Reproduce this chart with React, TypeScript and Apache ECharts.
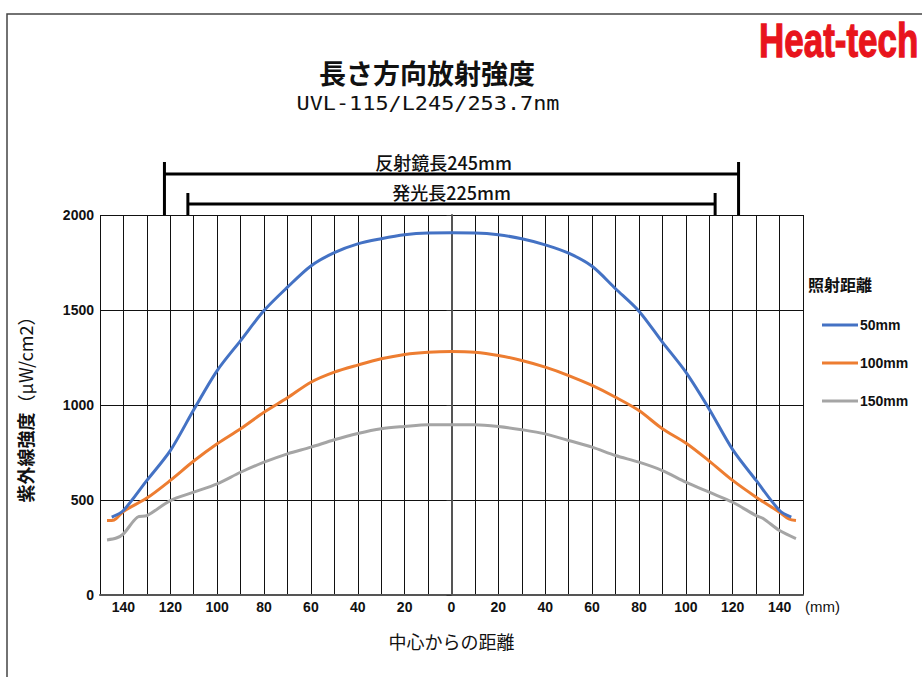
import React, { useEffect, useRef } from "react";
import * as echarts from "echarts";

// ---- data ----
const seriesNames = ["50mm", "100mm", "150mm"];
const seriesColors = ["#4472C4", "#ED7D31", "#A5A5A5"];

const d50X = [-145, -140, -130, -120, -110, -100, -90, -80, -70, -60, -50, -40, -30, -20, -10, 0, 10, 20, 30, 40, 50, 60, 70, 80, 90, 100, 110, 120, 130, 140, 145];
const d50Y = [410, 445, 603, 760, 975, 1181, 1339, 1497, 1620, 1732, 1802, 1848, 1875, 1896, 1905, 1906, 1905, 1896, 1875, 1843, 1799, 1730, 1612, 1494, 1331, 1173, 978, 765, 603, 445, 410];

const d100X = [-147, -144, -140, -130, -120, -110, -100, -90, -80, -70, -60, -50, -40, -30, -20, -10, 0, 10, 20, 30, 40, 50, 60, 70, 80, 90, 100, 110, 120, 130, 140, 144, 147];
const d100Y = [392, 395, 440, 510, 603, 705, 796, 875, 962, 1038, 1120, 1173, 1210, 1243, 1266, 1278, 1282, 1278, 1261, 1234, 1199, 1155, 1103, 1041, 971, 875, 800, 705, 603, 515, 436, 400, 392];

const d150X = [-147, -143, -140, -134, -130, -120, -110, -100, -90, -80, -70, -60, -50, -40, -30, -20, -10, 0, 10, 20, 30, 40, 50, 60, 70, 80, 90, 100, 110, 120, 130, 133, 140, 147];
const d150Y = [290, 300, 322, 410, 418, 497, 541, 585, 646, 699, 743, 778, 817, 850, 875, 887, 896, 896, 896, 887, 870, 848, 813, 778, 734, 699, 655, 594, 541, 488, 418, 403, 339, 297];

const xMin = -150;
const xMax = 150;
const xInterval = 10;
const yMin = 0;
const yMax = 2000;
const yInterval = 500;

const reflectorLength = 245; // mm
const emitLength = 225; // mm
const reflectorLabel = "反射鏡長245mm";
const emitLabel = "発光長225mm";

const titleText = "長さ方向放射強度";
const subtitleText = "UVL-115/L245/253.7nm";
const brandText = "Heat-tech";
const legendTitle = "照射距離";
const xAxisName = "中心からの距離";
const xUnit = "(mm)";
const yAxisNameMain = "紫外線強度";
const yAxisNameUnit = "（μW/cm2）";

const zip = (xs: number[], ys: number[]) => xs.map((x, i) => [x, ys[i]]);

const CJK = "'Noto Sans CJK JP', sans-serif";
const LAT = "'Liberation Sans', Arial, sans-serif";
const MONO = "'DejaVu Sans Mono', monospace";

export default function App() {
  const ref = useRef<HTMLDivElement>(null);
  useEffect(() => {
    const chart = echarts.init(ref.current!, null, { renderer: "svg" });
    const dataSets = [zip(d50X, d50Y), zip(d100X, d100Y), zip(d150X, d150Y)];
    chart.setOption({
      animation: false,
      backgroundColor: "#ffffff",
      grid: { left: 100, top: 215, right: 119, bottom: 82, containLabel: false },
      legend: {
        data: seriesNames,
        orient: "vertical",
        left: 822,
        top: 318,
        padding: 0,
        icon: "rect",
        itemWidth: 36,
        itemHeight: 3,
        itemGap: 24,
        itemStyle: { borderWidth: 0 },
        textStyle: { fontFamily: LAT, fontWeight: "bold", fontSize: 14, color: "#111", padding: [0, 0, 0, -3] },
      },
      xAxis: {
        type: "value",
        min: xMin,
        max: xMax,
        interval: xInterval,
        name: xAxisName,
        nameLocation: "middle",
        nameGap: 37,
        nameTextStyle: { fontFamily: CJK, fontSize: 18, color: "#111" },
        axisLine: { show: true, lineStyle: { color: "#555", width: 2 } },
        axisTick: { show: false },
        splitLine: { show: true, lineStyle: { color: "#111", width: 1 } },
        axisLabel: {
          margin: 5,
          fontFamily: LAT,
          fontWeight: "bold",
          fontSize: 14,
          color: "#111",
          showMinLabel: true,
          showMaxLabel: true,
          formatter: (v: number) => (v % 20 === 0 && Math.abs(v) < 150 ? String(Math.abs(v)) : ""),
        },
      },
      yAxis: {
        type: "value",
        min: yMin,
        max: yMax,
        interval: yInterval,
        name: `{a|${yAxisNameMain}}{b|${yAxisNameUnit}}`,
        nameLocation: "middle",
        nameRotate: 90,
        nameGap: 66,
        nameTextStyle: {
          rich: {
            a: { fontFamily: CJK, fontWeight: "bold", fontSize: 18, color: "#111" },
            b: { fontFamily: CJK, fontSize: 18, color: "#111" },
          },
        },
        axisLine: { show: true, lineStyle: { color: "#555", width: 2 } },
        axisTick: { show: true, length: 5, lineStyle: { color: "#333" } },
        splitLine: { show: true, lineStyle: { color: "#111", width: 1 } },
        axisLabel: {
          margin: 6,
          fontFamily: LAT,
          fontWeight: "bold",
          fontSize: 14,
          color: "#111",
          formatter: (v: number) => String(v),
        },
      },
      series: seriesNames.map((name, i) => ({
        name,
        type: "line",
        data: dataSets[i],
        smooth: 0.3,
        showSymbol: false,
        symbol: "none",
        color: seriesColors[i],
        lineStyle: { color: seriesColors[i], width: 3 },
        z: 3 - i,
      })),
    });

    const px = (x: number, y: number) => chart.convertToPixel({ gridIndex: 0 }, [x, y]) as number[];
    const [rL, top] = px(-reflectorLength / 2, yMax);
    const [rR] = px(reflectorLength / 2, yMax);
    const [eL] = px(-emitLength / 2, yMax);
    const [eR] = px(emitLength / 2, yMax);
    const [cx] = px(0, yMax);
    const [rightX, bottom] = px(xMax, yMin);
    const blk = { stroke: "#000", lineWidth: 3 };

    chart.setOption({
      graphic: [
        { type: "rect", silent: true, shape: { x: 7, y: 14, width: 960, height: 720 }, style: { fill: "none", stroke: "#444", lineWidth: 1.5 } },
        { type: "text", x: 759, y: 40, scaleX: 0.76, scaleY: 1.05, style: { text: brandText, fill: "#e8141c", stroke: "#e8141c", lineWidth: 1.2, font: `bold 46px ${LAT}`, verticalAlign: "middle", align: "left" } },
        { type: "text", x: 427, y: 72, style: { text: titleText, fill: "#111", font: `bold 27px ${CJK}`, align: "center", verticalAlign: "middle" } },
        { type: "text", x: 428, y: 104, scaleX: 1.15, style: { text: subtitleText, fill: "#111", font: `19px ${MONO}`, align: "center", verticalAlign: "middle" } },
        // reflector bracket
        { type: "line", shape: { x1: rL, y1: top - 53, x2: rL, y2: top }, style: blk },
        { type: "line", shape: { x1: rR, y1: top - 53, x2: rR, y2: top }, style: blk },
        { type: "line", shape: { x1: rL, y1: top - 41, x2: rR, y2: top - 41 }, style: blk },
        { type: "text", x: cx - 8, y: top - 53, style: { text: reflectorLabel, fill: "#111", font: `500 18px ${CJK}`, align: "center", verticalAlign: "middle" } },
        // emitting bracket
        { type: "line", shape: { x1: eL, y1: top - 22, x2: eL, y2: top }, style: blk },
        { type: "line", shape: { x1: eR, y1: top - 22, x2: eR, y2: top }, style: blk },
        { type: "line", shape: { x1: eL, y1: top - 11, x2: eR, y2: top - 11 }, style: blk },
        { type: "text", x: cx, y: top - 23, style: { text: emitLabel, fill: "#111", font: `500 18px ${CJK}`, align: "center", verticalAlign: "middle" } },
        // unit and legend title
        { type: "text", x: rightX + 2, y: bottom + 11, style: { text: xUnit, fill: "#111", font: `15px ${LAT}`, align: "left", verticalAlign: "middle" } },
        { type: "text", x: 808, y: 284, style: { text: legendTitle, fill: "#111", font: `bold 16px ${CJK}`, align: "left", verticalAlign: "middle" } },
      ],
    });
    return () => chart.dispose();
  }, []);
  return (
    <div
      ref={ref}
      style={{ position: "absolute", left: 0, top: 0, width: 922, height: 677, background: "#fff", overflow: "hidden" }}
    />
  );
}
